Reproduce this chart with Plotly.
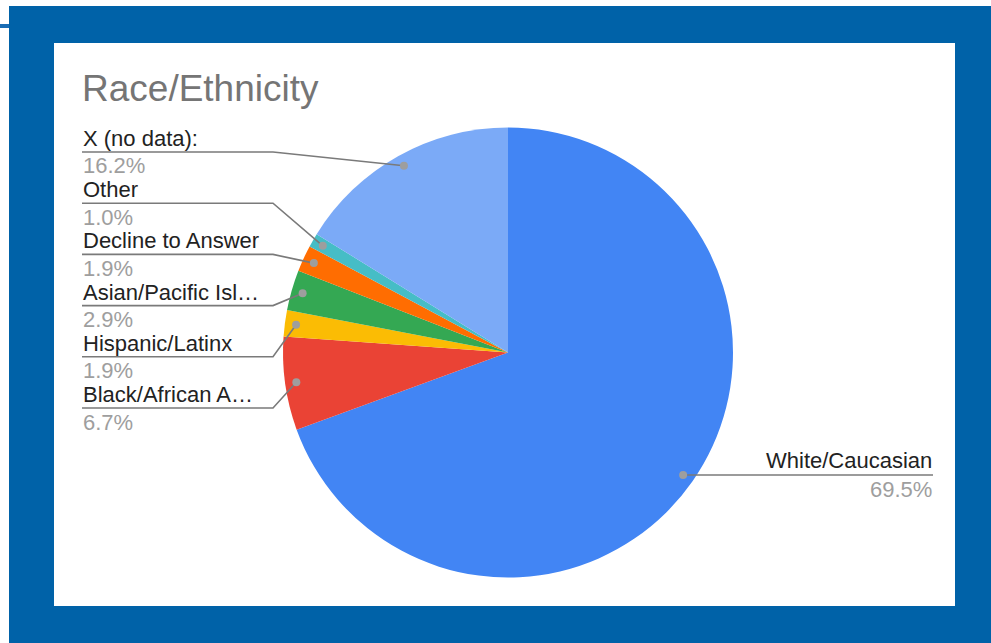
import math
import plotly.graph_objects as go

# Race/Ethnicity breakdown (percent of respondents), in drawing order
categories = ["White/Caucasian", "Black/African American", "Hispanic/Latinx",
              "Asian/Pacific Islander", "Decline to Answer", "Other", "X (no data):"]
display_names = ["White/Caucasian", "Black/African A\u2026", "Hispanic/Latinx",
                 "Asian/Pacific Isl\u2026", "Decline to Answer", "Other", "X (no data):"]
percents = [69.5, 6.7, 1.9, 2.9, 1.9, 1.0, 16.2]
slice_colors = ["#4285F4", "#EA4335", "#FBBC04", "#34A853", "#FF6D01", "#46BDC6", "#7BAAF7"]

W, H = 991, 643
FRAME_BLUE = "#0062A8"

# pie geometry in pixels
CX, CY, R = 508, 352.5, 225


def px(x):
    return x / W


def py(y):
    return 1 - y / H


fig = go.Figure()
fig.add_trace(go.Pie(
    labels=categories,
    values=percents,
    marker=dict(colors=slice_colors, line=dict(width=0)),
    sort=False,
    direction="clockwise",
    rotation=0,
    textinfo="none",
    hoverinfo="label+percent",
    showlegend=False,
    domain=dict(x=[px(CX - R), px(CX + R)], y=[py(CY + R), py(CY - R)]),
))

shapes = [
    # blue frame and white panel
    dict(type="rect", xref="paper", yref="paper", layer="below",
         x0=px(9), x1=px(W), y0=py(H), y1=py(6),
         fillcolor=FRAME_BLUE, line=dict(width=0)),
    dict(type="rect", xref="paper", yref="paper", layer="below",
         x0=px(0), x1=px(9), y0=py(28), y1=py(24),
         fillcolor="#1A6DB4", line=dict(width=0)),
    dict(type="rect", xref="paper", yref="paper", layer="below",
         x0=px(54), x1=px(955), y0=py(606), y1=py(43),
         fillcolor="white", line=dict(width=0)),
]

annotations = [
    dict(text="Race/Ethnicity", x=px(80), y=py(88.5), xref="paper", yref="paper",
         xanchor="left", yanchor="middle", showarrow=False,
         font=dict(family="Liberation Sans, Arial", size=37, color="#757575")),
]

LINE_COLOR = "#7a7a7a"
DOT_COLOR = "#9e9e9e"
FS = 22
NAME_FONT = dict(family="Liberation Sans, Arial", size=FS, color="#222222")
PCT_FONT = dict(family="Liberation Sans, Arial", size=FS, color="#9e9e9e")

total = sum(percents)
cum = 0.0
mids = []
for v in percents:
    mids.append((cum + v / 2) / total * 2 * math.pi)
    cum += v

# left-hand labels stacked from the top, last slice first
left_order = list(range(len(percents) - 1, 0, -1))
LEFT_X0, LEFT_X1 = 82, 273
first_line, step = 152, 51.2

for k, i in enumerate(left_order):
    ang = mids[i]
    dx, dy = CX + 0.95 * R * math.sin(ang), CY - 0.95 * R * math.cos(ang)
    ly = first_line + k * step
    shapes.append(dict(type="path", xref="paper", yref="paper", layer="above",
                       path=f"M {px(LEFT_X0)} {py(ly)} L {px(LEFT_X1)} {py(ly)} L {px(dx)} {py(dy)}",
                       line=dict(color=LINE_COLOR, width=1.6)))
    shapes.append(dict(type="circle", xref="paper", yref="paper", layer="above",
                       x0=px(dx - 4), x1=px(dx + 4), y0=py(dy + 4), y1=py(dy - 4),
                       fillcolor=DOT_COLOR, line=dict(width=0)))
    annotations.append(dict(text=display_names[i], x=px(LEFT_X0 - 1), y=py(ly - 13.6),
                            xref="paper", yref="paper", xanchor="left", yanchor="middle",
                            showarrow=False, font=NAME_FONT))
    annotations.append(dict(text=f"{percents[i]:.1f}%", x=px(LEFT_X0 - 1), y=py(ly + 14),
                            xref="paper", yref="paper", xanchor="left", yanchor="middle",
                            showarrow=False, font=PCT_FONT))

# right-hand label for the largest slice
ang = mids[0]
dx, dy = CX + 0.95 * R * math.sin(ang), CY - 0.95 * R * math.cos(ang)
RIGHT_X = 933
shapes.append(dict(type="line", xref="paper", yref="paper", layer="above",
                   x0=px(dx), x1=px(RIGHT_X), y0=py(dy), y1=py(dy),
                   line=dict(color=LINE_COLOR, width=1.6)))
shapes.append(dict(type="circle", xref="paper", yref="paper", layer="above",
                   x0=px(dx - 4), x1=px(dx + 4), y0=py(dy + 4), y1=py(dy - 4),
                   fillcolor=DOT_COLOR, line=dict(width=0)))
annotations.append(dict(text=display_names[0], x=px(RIGHT_X + 1), y=py(dy - 14.5),
                        xref="paper", yref="paper", xanchor="right", yanchor="middle",
                        showarrow=False, font=NAME_FONT))
annotations.append(dict(text=f"{percents[0]:.1f}%", x=px(RIGHT_X + 1), y=py(dy + 14),
                        xref="paper", yref="paper", xanchor="right", yanchor="middle",
                        showarrow=False, font=PCT_FONT))

fig.update_layout(
    width=W, height=H,
    margin=dict(l=0, r=0, t=0, b=0),
    paper_bgcolor="white",
    plot_bgcolor="white",
    shapes=shapes,
    annotations=annotations,
)

fig.write_html("out.html")
